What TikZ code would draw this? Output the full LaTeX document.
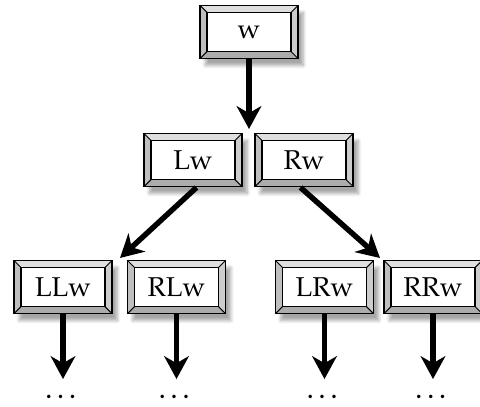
\documentclass[tikz,border=0pt]{standalone}
\usepackage[T1]{fontenc}
\usepackage{mathpazo}
\usetikzlibrary{arrows.meta,shadows.blur}
\newcommand{\bev}{0.14cm}
\tikzset{
	bevelbox/.style={draw, line width=1.1pt, fill=gray!55, minimum width=1.96cm,
		minimum height=1.06cm, inner sep=0pt, font=\fontfamily{ppl}\fontsize{15.5}{18}\selectfont,
		blur shadow={shadow xshift=3pt, shadow yshift=-4pt, shadow blur steps=6, shadow opacity=35},
		path picture={
			\coordinate (pnw) at (path picture bounding box.north west);
			\coordinate (pne) at (path picture bounding box.north east);
			\coordinate (psw) at (path picture bounding box.south west);
			\coordinate (pse) at (path picture bounding box.south east);
			\coordinate (qnw) at ([shift={(\bev,-\bev)}]pnw);
			\coordinate (qne) at ([shift={(-\bev,-\bev)}]pne);
			\coordinate (qsw) at ([shift={(\bev,\bev)}]psw);
			\coordinate (qse) at ([shift={(-\bev,\bev)}]pse);
			\fill[gray!25] (pnw) -- (pne) -- (qne) -- (qnw) -- cycle;
			\fill[gray!65] (psw) -- (pse) -- (qse) -- (qsw) -- cycle;
			\fill[gray!40] (pne) -- (pse) -- (qse) -- (qne) -- cycle;
			\fill[gray!50] (pnw) -- (psw) -- (qsw) -- (qnw) -- cycle;
			\draw[line width=0.6pt] (pnw) -- (qnw) (pne) -- (qne) (psw) -- (qsw) (pse) -- (qse);
			\draw[line width=1.1pt, fill=white] (qnw) rectangle (qse);
		}},
	treearrow/.style={-{Stealth[length=13pt,width=14pt,inset=4pt]}, line width=3.1pt},
	moredots/.style={inner sep=0pt, font=\fontfamily{ppl}\fontsize{17}{19}\selectfont}
}
\begin{document}
\begin{tikzpicture}[x=0.02cm,y=-0.02cm]
	\useasboundingbox (0,0) rectangle (480,406);
	% top
	\node[bevelbox] (w) at (249,32) {w};
	% second row
	\node[bevelbox] (Lw) at (193,160) {Lw};
	\node[bevelbox] (Rw) at (304,160) {Rw};
	% third row
	\node[bevelbox] (LLw) at (63,287) {LLw};
	\node[bevelbox] (RLw) at (176.5,287) {RLw};
	\node[bevelbox] (LRw) at (324.5,287) {LRw};
	\node[bevelbox] (RRw) at (433,287) {RRw};
	% dots
	\node[moredots] (d1) at (63,397) {\dots};
	\node[moredots] (d2) at (176.5,397) {\dots};
	\node[moredots] (d3) at (324.5,397) {\dots};
	\node[moredots] (d4) at (433,397) {\dots};
	\coordinate (wend) at (249,129);
	\coordinate (Lend) at (120,258);
	\coordinate (Rend) at (380,258);
	\draw[treearrow] (w.south) -- (wend);
	\draw[treearrow] ([xshift=2pt]Lw.south) -- (Lend);
	\draw[treearrow] ([xshift=-2pt]Rw.south) -- (Rend);
	\draw[treearrow] (LLw.south) -- ([yshift=9pt]d1.north);
	\draw[treearrow] (RLw.south) -- ([yshift=9pt]d2.north);
	\draw[treearrow] (LRw.south) -- ([yshift=9pt]d3.north);
	\draw[treearrow] (RRw.south) -- ([yshift=9pt]d4.north);
\end{tikzpicture}
\end{document}
